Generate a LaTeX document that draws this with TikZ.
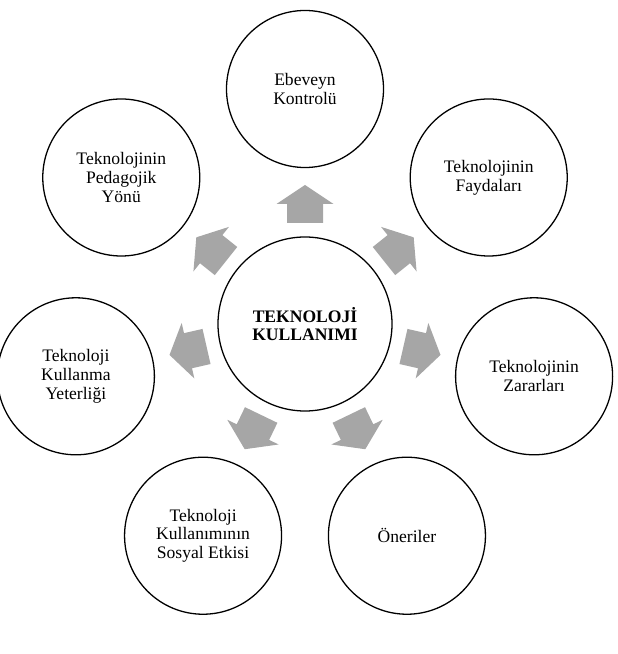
\documentclass[tikz,border=0pt]{standalone}
\usepackage{fontspec}
\setmainfont{Liberation Serif}
\definecolor{okgri}{HTML}{A6A6A6}
\tikzset{
  % dış daire
  konu/.style={circle, draw=black, line width=1.1pt, minimum size=4.71cm, inner sep=0pt,
    align=center, font=\fontsize{15}{16}\selectfont},
  % merkez daire
  merkez/.style={konu, minimum size=5.22cm, font=\fontsize{15}{16}\selectfont\bfseries},
  % gri blok ok
  blokok/.style={fill=okgri},
}
\begin{document}
\begin{tikzpicture}[x=0.03cm, y=0.03cm]
  \useasboundingbox (-305,-330) rectangle (312,324);
  % merkez
  \node[merkez] (merkez) at (0,0) {TEKNOLOJİ\\KULLANIMI};
  % dış daireler
  \node[konu] (ebeveyn) at (90:235) {Ebeveyn\\Kontrolü};
  \node[konu] (fayda) at (38.57:235) {Teknolojinin\\Faydaları};
  \node[konu] (zarar) at (-12.86:235) {Teknolojinin\\Zararları};
  \node[konu] (oneri) at (-64.29:235) {Öneriler};
  \node[konu] (sosyal) at (-115.71:235) {Teknoloji\\Kullanımının\\Sosyal Etkisi};
  \node[konu] (yeterlik) at (192.86:235) {Teknoloji\\Kullanma\\Yeterliği};
  \node[konu] (pedagoji) at (141.43:235) {Teknolojinin\\Pedagojik\\Yönü};
  % oklar
  \foreach \a in {90, 38.57, -12.86, -64.29, -115.71, 192.86, 141.43}
    \fill[blokok, rotate=\a] (101,-18) -- (120,-18) -- (120,-28.5) -- (139,0)
      -- (120,28.5) -- (120,18) -- (101,18) -- cycle;
\end{tikzpicture}
\end{document}
